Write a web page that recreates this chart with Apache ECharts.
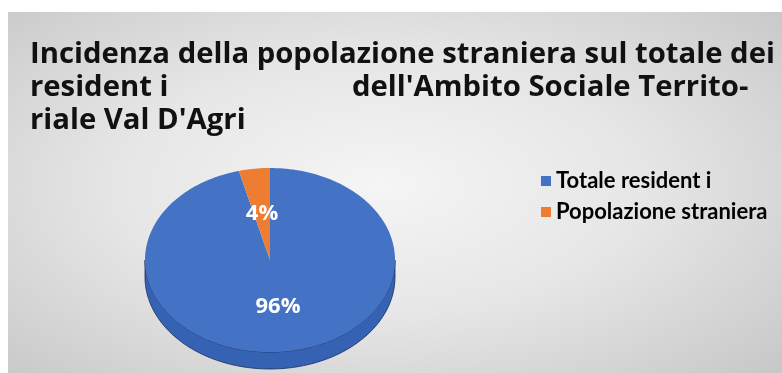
<!DOCTYPE html>
<html>
<head>
<meta charset="utf-8">
<script src="https://cdn.jsdelivr.net/npm/echarts@6/dist/echarts.min.js"></script>
<style>
  html, body { margin: 0; padding: 0; background: #fff; }
  #bg {
    position: absolute; left: 8px; top: 12px; width: 774px; height: 361px;
    background: radial-gradient(ellipse 75% 80% at 48% 48%, #f5f5f5 0%, #e6e6e6 45%, #c4c4c4 100%);
  }
  #main { position: absolute; left: 0; top: 0; width: 782px; height: 373px; }
</style>
</head>
<body>
<div id="bg"></div>
<div id="main"></div>
<script>
// dati
const categories = ['Totale resident i', 'Popolazione straniera'];
const shares = [96, 4];
const colors = ['#4472C4', '#ED7D31'];
const sideColors = ['#3562b3', '#c0621f'];

const total = shares.reduce((a, b) => a + b, 0);
const starts = [];
shares.reduce((acc, v, i) => { starts[i] = acc; return acc + v; }, 0);

// pie geometry (tilted, 3d look)
const pie = { cx: 270, cy: 260, rx: 125, ry: 92, depth: 17, labelR: 0.51 };

function pt(frac, k, dy) {
  const a = frac * Math.PI * 2;
  return [pie.cx + pie.rx * k * Math.sin(a), pie.cy + (dy || 0) - pie.ry * k * Math.cos(a)];
}
function arc(f0, f1, dy) {
  const n = Math.max(2, Math.ceil((f1 - f0) * 240));
  const out = [];
  for (let j = 0; j <= n; j++) out.push(pt(f0 + (f1 - f0) * j / n, 1, dy));
  return out;
}

function makeRender(i) {
  return function (params, api) {
    const v = api.value(0);
    const f0 = starts[i] / total, f1 = (starts[i] + v) / total;
    const children = [];
    const a0 = Math.max(f0, 0.25), a1 = Math.min(f1, 0.75);
    if (a1 > a0) {
      const side = arc(a0, a1, 0).concat(arc(a0, a1, pie.depth).reverse());
      children.push({
        type: 'polygon', shape: { points: side },
        style: { fill: sideColors[i], stroke: 'rgba(25,45,90,0.8)', lineWidth: 1 }
      });
    }
    children.push({
      type: 'polygon',
      shape: { points: [[pie.cx, pie.cy]].concat(arc(f0, f1, 0)) },
      style: { fill: colors[i] }
    });
    const mid = pt((f0 + f1) / 2, pie.labelR, 0);
    children.push({
      type: 'text',
      style: {
        text: Math.round(v / total * 100) + '%',
        x: mid[0], y: mid[1], align: 'center', verticalAlign: 'middle',
        fill: '#fff', font: 'bold 22px "Open Sans"'
      }
    });
    return { type: 'group', children: children };
  };
}

const titleStyle = { fontFamily: 'Open Sans', fontWeight: 'bold', fontSize: 29.3, color: '#111' };
const chart = echarts.init(document.getElementById('main'));
chart.setOption({
  animation: false,
  title: [
    { text: 'Incidenza della popolazione straniera sul totale dei', left: 25, top: 35, textStyle: titleStyle },
    { text: 'resident i', left: 25, top: 68, textStyle: titleStyle },
    { text: "dell'Ambito Sociale Territo-", left: 347, top: 68, textStyle: titleStyle },
    { text: "riale Val D'Agri", left: 25, top: 101, textStyle: titleStyle }
  ],
  legend: {
    orient: 'vertical', left: 536, top: 165,
    icon: 'rect', itemWidth: 10, itemHeight: 10, itemGap: 9,
    textStyle: { fontFamily: 'Lato', fontWeight: 'bold', fontSize: 22, color: '#000', lineHeight: 22 },
    data: categories
  },
  series: categories.map((name, i) => ({
    type: 'custom',
    name: name,
    coordinateSystem: 'none',
    silent: true,
    itemStyle: { color: colors[i] },
    renderItem: makeRender(i),
    data: [shares[i]]
  }))
});
</script>
</body>
</html>
